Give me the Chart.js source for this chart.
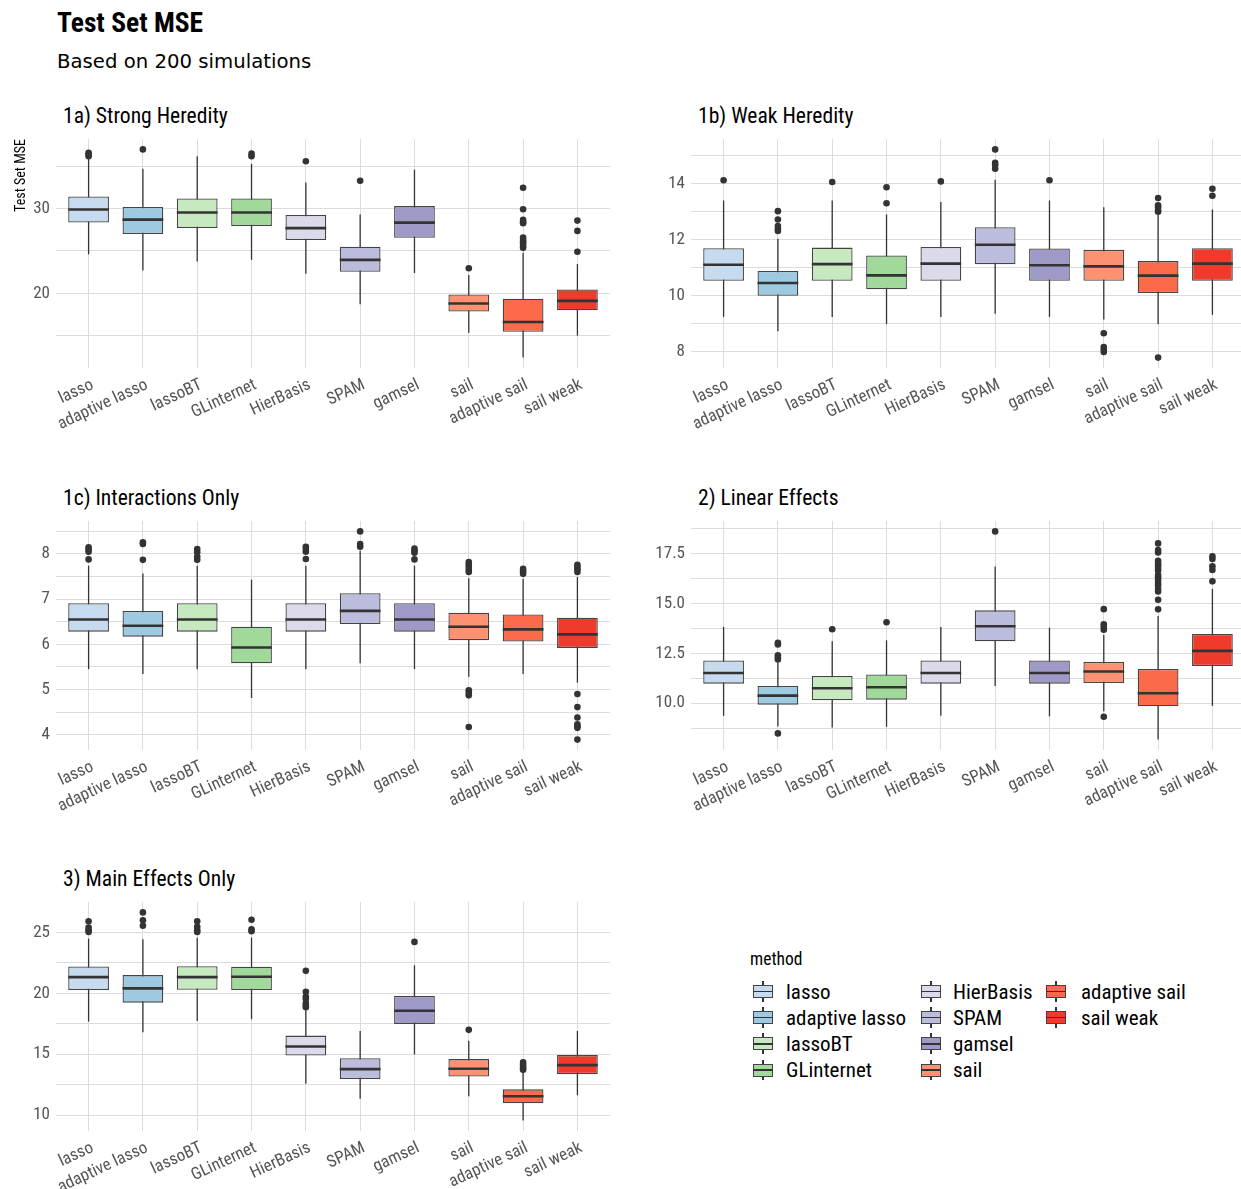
<!DOCTYPE html>
<html lang="en">
<head>
<meta charset="utf-8">
<title>Test Set MSE</title>
<script src="https://cdn.jsdelivr.net/npm/chart.js@4.4.1/dist/chart.umd.min.js"></script>
<style>
  :root { --narrow: 'Roboto Condensed', 'Liberation Sans Narrow', 'DejaVu Sans Condensed', Roboto, sans-serif; }
  html, body { margin: 0; padding: 0; background: #fff; overflow: hidden; }
  body { width: 1241px; height: 1189px; position: relative; font-family: var(--narrow); color: #000; }
  .abs { position: absolute; white-space: nowrap; }
  #mainTitle { left: 57px; top: 9px; font: bold 27.5px/27.5px var(--narrow); }
  #subTitle { left: 57px; top: 51.6px; font: 19.7px/19.7px 'DejaVu Sans', sans-serif; }
  .panelTitle { font: 21.6px/22px var(--narrow); }
  #legendTitle { left: 750px; top: 949px; font: 17.5px/20px var(--narrow); }
  .key { position: absolute; width: 26px; height: 26px; }
  .key .wh { position: absolute; left: 12.4px; top: 2.6px; width: 1.2px; height: 20.8px; background: #333; }
  .key .bx { position: absolute; left: 3.25px; top: 6.5px; width: 19.5px; height: 13px; box-sizing: border-box; border: 1.3px solid #444; }
  .key .md { position: absolute; left: 3.25px; top: 12.2px; width: 19.5px; height: 1.6px; background: #333; }
  .legendLabel { font: 21px/26px var(--narrow); }
</style>
</head>
<body>
<div id="mainTitle" class="abs">Test Set MSE</div>
<div id="subTitle" class="abs">Based on 200 simulations</div>
<div id="legendTitle" class="abs">method</div>

<script>
// Methods compared and their box fill colours
const methods = ['lasso', 'adaptive lasso', 'lassoBT', 'GLinternet', 'HierBasis',
                 'SPAM', 'gamsel', 'sail', 'adaptive sail', 'sail weak'];
const fills = ['#c6dbef', '#9ecae1', '#c7e9c0', '#a1d99b', '#dadaeb',
               '#bcbddc', '#9e9ac8', '#fc9272', '#fb6a4a', '#ef3b2c'];

const panelTitles = ['1a) Strong Heredity', '1b) Weak Heredity', '1c) Interactions Only',
                     '2) Linear Effects', '3) Main Effects Only'];

// Box summaries per method: [lower whisker, Q1, median, Q3, upper whisker]
const strongBoxes = [
  [24.6, 28.35, 29.9, 31.45, 35.9],
  [22.7, 27.0, 28.7, 30.2, 34.7],
  [23.75, 27.7, 29.55, 31.2, 36.2],
  [23.95, 27.95, 29.55, 31.2, 35.3],
  [22.3, 26.3, 27.7, 29.25, 33.1],
  [18.7, 22.55, 23.95, 25.5, 29.3],
  [22.4, 26.55, 28.35, 30.3, 34.6],
  [15.35, 17.85, 18.8, 19.85, 22.15],
  [12.4, 15.45, 16.6, 19.35, 24.8],
  [15.0, 18.0, 19.1, 20.45, 23.45]
];
const strongOutliers = [
  [36.2, 36.4, 36.6],
  [37.0],
  [],
  [36.2, 36.5],
  [35.6],
  [33.3],
  [],
  [22.95],
  [25.37, 25.6, 25.88, 26.08, 26.31, 26.59, 28.27, 28.43, 28.67, 29.92, 32.47],
  [24.9, 27.37, 28.59]
];
const strongMajor = [20, 30];
const strongMinor = [15, 25, 35];
const strongLabels = ['20', '30'];

const weakBoxes = [
  [9.25, 10.54, 11.11, 11.7, 13.4],
  [8.74, 10.0, 10.46, 10.89, 12.04],
  [9.25, 10.54, 11.13, 11.72, 13.4],
  [9.0, 10.24, 10.73, 11.44, 12.9],
  [9.25, 10.54, 11.15, 11.74, 13.35],
  [9.36, 11.13, 11.82, 12.45, 14.14],
  [9.25, 10.54, 11.09, 11.69, 13.4],
  [9.16, 10.54, 11.05, 11.64, 13.16],
  [9.0, 10.1, 10.72, 11.24, 12.88],
  [9.32, 10.54, 11.15, 11.7, 13.08]
];
const weakOutliers = [
  [14.12],
  [12.31, 12.39, 12.49, 12.72, 13.02],
  [14.06],
  [13.3, 13.87],
  [14.08],
  [14.53, 14.66, 14.74, 15.22],
  [14.12],
  [8.0, 8.09, 8.18, 8.67],
  [7.8, 13.0, 13.06, 13.16, 13.23, 13.49],
  [13.57, 13.82]
];
const weakMajor = [8, 10, 12, 14];
const weakMinor = [9, 11, 13, 15];
const weakLabels = ['8', '10', '12', '14'];

const interBoxes = [
  [5.45, 6.28, 6.55, 6.91, 7.74],
  [5.34, 6.17, 6.41, 6.74, 7.57],
  [5.45, 6.28, 6.55, 6.91, 7.74],
  [4.81, 5.58, 5.93, 6.39, 7.43],
  [5.45, 6.28, 6.55, 6.91, 7.74],
  [5.58, 6.45, 6.74, 7.13, 8.07],
  [5.45, 6.28, 6.55, 6.91, 7.74],
  [5.28, 6.09, 6.39, 6.7, 7.46],
  [5.34, 6.06, 6.33, 6.66, 7.45],
  [5.15, 5.92, 6.22, 6.59, 7.49]
];
const interOutliers = [
  [7.88, 8.05, 8.1, 8.15],
  [7.87, 8.22, 8.26],
  [7.87, 7.94, 8.04, 8.11],
  [],
  [7.89, 8.05, 8.11, 8.16],
  [8.16, 8.22, 8.5],
  [7.88, 8.03, 8.07, 8.12],
  [4.17, 4.87, 4.92, 4.98, 7.6, 7.65, 7.71, 7.76, 7.82],
  [7.56, 7.62, 7.67],
  [3.89, 4.15, 4.18, 4.23, 4.38, 4.61, 4.9, 7.6, 7.66, 7.71, 7.76]
];
const interMajor = [4, 5, 6, 7, 8];
const interMinor = [4.5, 5.5, 6.5, 7.5, 8.5];
const interLabels = ['4', '5', '6', '7', '8'];

const linearBoxes = [
  [9.37, 10.98, 11.51, 12.14, 13.82],
  [8.84, 9.93, 10.38, 10.86, 12.02],
  [8.79, 10.15, 10.75, 11.36, 13.1],
  [8.82, 10.18, 10.8, 11.44, 13.15],
  [9.37, 10.98, 11.51, 12.14, 13.82],
  [10.86, 13.1, 13.85, 14.65, 16.84],
  [9.34, 10.98, 11.51, 12.14, 13.78],
  [9.6, 11.01, 11.59, 12.06, 13.43],
  [8.18, 9.85, 10.5, 11.71, 14.36],
  [9.87, 11.86, 12.62, 13.47, 15.72]
];
const linearOutliers = [
  [],
  [8.49, 12.19, 12.29, 12.4, 12.94, 13.02],
  [13.7],
  [14.05],
  [],
  [18.6],
  [],
  [9.32, 13.68, 13.82, 13.95, 14.71],
  [14.7, 15.18, 15.59, 15.72, 15.89, 16.02, 16.17, 16.3, 16.42, 16.64, 16.77, 16.89, 17.0, 17.13, 17.55, 17.67, 18.0],
  [16.1, 16.67, 16.85, 17.22, 17.35]
];
const linearMajor = [10, 12.5, 15, 17.5];
const linearMinor = [8.75, 11.25, 13.75, 16.25, 18.75];
const linearLabels = ['10.0', '12.5', '15.0', '17.5'];

const mainBoxes = [
  [17.68, 20.26, 21.32, 22.2, 24.48],
  [16.8, 19.23, 20.4, 21.49, 24.43],
  [17.73, 20.29, 21.32, 22.22, 24.56],
  [17.87, 20.26, 21.35, 22.17, 24.56],
  [12.59, 14.9, 15.63, 16.53, 18.6],
  [11.36, 12.97, 13.78, 14.68, 16.91],
  [14.98, 17.49, 18.57, 19.77, 22.3],
  [11.55, 13.18, 13.81, 14.6, 16.1],
  [9.56, 10.98, 11.55, 12.12, 13.54],
  [11.63, 13.37, 14.11, 14.93, 16.91]
];
const mainOutliers = [
  [25.03, 25.16, 25.38, 25.9],
  [25.54, 25.98, 26.63],
  [25.03, 25.16, 25.44, 25.9],
  [25.08, 25.25, 26.03],
  [18.85, 19.0, 19.17, 19.53, 19.72, 20.13, 21.84],
  [],
  [24.21],
  [17.0],
  [13.73, 13.84, 14.0, 14.16, 14.33],
  []
];
const mainMajor = [10, 15, 20, 25];
const mainMinor = [12.5, 17.5, 22.5];
const mainLabels = ['10', '15', '20', '25'];

// ---- layout -------------------------------------------------------------
const NARROW = "'Roboto Condensed', 'Liberation Sans Narrow', 'DejaVu Sans Condensed', Roboto, sans-serif";
const PLOT_W = 554, PLOT_H = 229;
const Y_AXIS_W = 56, PAD_TOP = 14, PAD_RIGHT = 4, X_AXIS_H = 80;
const colLeft = [56, 691];
const rowTop = [139, 521, 902];
const GRID = '#dcdcdc';
const TICK = '#555555';
const INK = '#333333';

const panels = [
  { title: panelTitles[0], col: 0, row: 0, boxes: strongBoxes, outliers: strongOutliers, major: strongMajor, minor: strongMinor, labels: strongLabels, yTitle: true },
  { title: panelTitles[1], col: 1, row: 0, boxes: weakBoxes, outliers: weakOutliers, major: weakMajor, minor: weakMinor, labels: weakLabels },
  { title: panelTitles[2], col: 0, row: 1, boxes: interBoxes, outliers: interOutliers, major: interMajor, minor: interMinor, labels: interLabels },
  { title: panelTitles[3], col: 1, row: 1, boxes: linearBoxes, outliers: linearOutliers, major: linearMajor, minor: linearMinor, labels: linearLabels },
  { title: panelTitles[4], col: 0, row: 2, boxes: mainBoxes, outliers: mainOutliers, major: mainMajor, minor: mainMinor, labels: mainLabels }
];

// Median bar across each box, drawn right after the boxes
const medianLines = {
  id: 'medianLines',
  afterDatasetDraw(chart, args, opts) {
    if (args.index !== 1) return;
    const y = chart.scales.y;
    const ctx = chart.ctx;
    ctx.save();
    ctx.strokeStyle = INK;
    ctx.lineWidth = 2.6;
    ctx.lineCap = 'butt';
    args.meta.data.forEach((bar, i) => {
      const { x, width } = bar.getProps(['x', 'width'], true);
      const py = y.getPixelForValue(opts.medians[i]);
      ctx.beginPath();
      ctx.moveTo(x - width / 2, py);
      ctx.lineTo(x + width / 2, py);
      ctx.stroke();
    });
    ctx.restore();
  }
};

function buildPanel(p) {
  const left = colLeft[p.col], top = rowTop[p.row];

  const t = document.createElement('div');
  t.className = 'abs panelTitle';
  t.textContent = p.title;
  t.style.left = (left + 7) + 'px';
  t.style.top = (top - 34) + 'px';
  document.body.appendChild(t);

  const w = Y_AXIS_W + PLOT_W + PAD_RIGHT, h = PAD_TOP + PLOT_H + X_AXIS_H;
  const canvas = document.createElement('canvas');
  canvas.width = w; canvas.height = h;
  canvas.style.cssText = `position:absolute;left:${left - Y_AXIS_W}px;top:${top - PAD_TOP}px;width:${w}px;height:${h}px`;
  document.body.appendChild(canvas);

  // ggplot-style 5% expansion of the data range
  const all = p.boxes.flatMap(b => [b[0], b[4]]).concat(p.outliers.flat());
  const lo = Math.min(...all), hi = Math.max(...all), pad = (hi - lo) * 0.05;
  const yTicks = p.major.concat(p.minor).sort((a, b) => a - b);

  new Chart(canvas, {
    type: 'bar',
    data: {
      datasets: [
        { label: 'whiskers', data: p.boxes.map((b, i) => ({ x: i, y: [b[0], b[4]] })),
          backgroundColor: INK, maxBarThickness: 1.3, grouped: false, order: 3 },
        { label: 'boxes', data: p.boxes.map((b, i) => ({ x: i, y: [b[1], b[3]] })),
          backgroundColor: fills, borderColor: '#444444', borderWidth: 1.3, borderSkipped: false,
          categoryPercentage: 1, barPercentage: 0.75, grouped: false, order: 2 },
        { type: 'scatter', label: 'outliers',
          data: p.outliers.flatMap((arr, i) => arr.map(v => ({ x: i, y: v }))),
          backgroundColor: INK, borderWidth: 0, pointRadius: 3.3, order: 1 }
      ]
    },
    options: {
      responsive: false, animation: false, devicePixelRatio: 1, events: [],
      layout: { padding: { top: PAD_TOP, right: PAD_RIGHT, left: 0, bottom: 0 } },
      plugins: { legend: { display: false }, tooltip: { enabled: false },
                 medianLines: { medians: p.boxes.map(b => b[2]) } },
      scales: {
        x: {
          type: 'linear', min: -0.6, max: 9.6, offset: false,
          afterBuildTicks: s => { s.ticks = methods.map((_, i) => ({ value: i })); },
          afterFit: s => { s.height = X_AXIS_H; s.paddingLeft = 0; s.paddingRight = 0; },
          grid: { color: GRID, lineWidth: 1, drawTicks: false, offset: false },
          border: { display: false },
          ticks: { autoSkip: false, minRotation: 25, maxRotation: 25, padding: 7, labelOffset: 4,
                   color: TICK, font: { family: NARROW, size: 17 }, callback: v => methods[v] }
        },
        y: {
          type: 'linear', min: lo - pad, max: hi + pad,
          afterBuildTicks: s => { s.ticks = yTicks.map(v => ({ value: v })); },
          afterFit: s => { s.width = Y_AXIS_W; s.paddingTop = 0; s.paddingBottom = 0; },
          grid: { color: GRID, lineWidth: 1, drawTicks: false },
          border: { display: false },
          ticks: { autoSkip: false, padding: 6, color: TICK, font: { family: NARROW, size: 17 },
                   callback: v => { const k = p.major.indexOf(v); return k < 0 ? '' : p.labels[k]; } },
          title: p.yTitle
            ? { display: true, text: 'Test Set MSE', align: 'end', color: '#000',
                padding: { top: 13.5, bottom: 0 }, font: { family: NARROW, size: 14 } }
            : { display: false }
        }
      }
    },
    plugins: [medianLines]
  });
}

panels.forEach(buildPanel);

// ---- legend -------------------------------------------------------------
const legendKeyX = [750, 918, 1043];
const legendTextX = [786, 953, 1081];
const legendRows = 4;
methods.forEach((m, i) => {
  const col = Math.floor(i / legendRows), row = i % legendRows;
  const cy = 991.5 + row * 26.2;
  const key = document.createElement('div');
  key.className = 'key';
  key.style.left = legendKeyX[col] + 'px';
  key.style.top = (cy - 13) + 'px';
  key.innerHTML = `<div class="wh"></div><div class="bx" style="background:${fills[i]}"></div><div class="md"></div>`;
  document.body.appendChild(key);
  const lab = document.createElement('div');
  lab.className = 'abs legendLabel';
  lab.textContent = m;
  lab.style.left = legendTextX[col] + 'px';
  lab.style.top = (cy - 13) + 'px';
  document.body.appendChild(lab);
});
</script>
</body>
</html>
